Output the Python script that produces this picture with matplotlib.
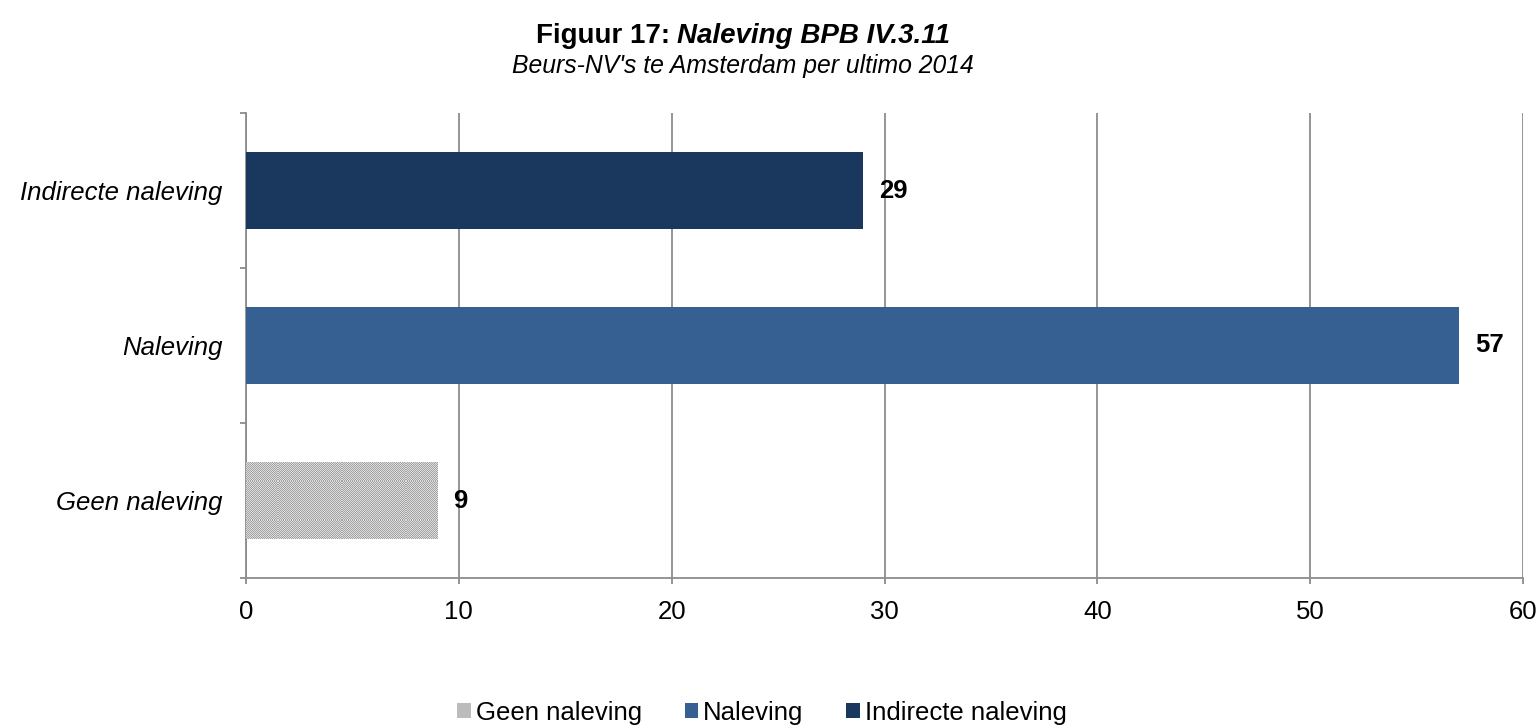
import matplotlib
matplotlib.use("Agg")
import numpy as np
import matplotlib.pyplot as plt
from matplotlib.patches import Patch

plt.rcParams['font.family'] = ['Liberation Sans', 'DejaVu Sans']

categories = ["Geen naleving", "Naleving", "Indirecte naleving"]
values = [9, 57, 29]
colors = ["#bcbcbc", "#376092", "#1a375e"]
xticks = [0, 10, 20, 30, 40, 50, 60]

W, H = 1539, 725
fig = plt.figure(figsize=(W / 100, H / 100), dpi=100)
ax = fig.add_axes([246 / W, 1 - 578 / H, (1523 - 246) / W, (578 - 113) / H])

ax.set_xlim(0, 60)
ax.set_ylim(-0.5, 2.5)

ypos = list(range(len(categories)))
LABEL_FS = 18.5
for y, v, c, name in zip(ypos, values, colors, categories):
    b = ax.barh(y, v, height=0.5, color=c, linewidth=0, zorder=3)
    if name == "Geen naleving":
        # fine dotted texture for the "no compliance" bar
        patch = b.patches[0]
        nx, ny = 1300, 480
        yy, xx = np.mgrid[0:ny, 0:nx]
        checker = ((xx + yy) % 2).astype(float)
        tex = np.where(checker[..., None] > 0,
                       np.array([0.87, 0.87, 0.87]),
                       np.array([0.64, 0.64, 0.64]))
        im = ax.imshow(tex, extent=(0, 60, -0.5, 2.5), aspect="auto",
                       interpolation="nearest", zorder=3.5, origin="lower")
        im.set_clip_path(patch)
    ax.annotate(str(v), xy=(v, y), xytext=(16, 0), textcoords="offset pixels",
                ha="left", va="center", fontsize=LABEL_FS, fontweight="bold", zorder=5)

ax.set_xlim(0, 60)
ax.set_ylim(-0.5, 2.5)
ax.set_xticks(xticks)
ax.set_xticklabels([str(t) for t in xticks], fontsize=LABEL_FS)
ax.set_yticks(ypos)
ax.set_yticklabels(categories, fontsize=LABEL_FS, fontstyle="italic")
ax.set_yticks([-0.5, 0.5, 1.5, 2.5], minor=True)
ax.tick_params(axis="y", which="major", length=0, pad=17)
ax.tick_params(axis="y", which="minor", length=4.5, color="#8c8c8c", width=1.3)
ax.tick_params(axis="x", which="major", length=4.5, color="#8c8c8c", width=1.3, pad=11)

ax.grid(axis="x", color="#8c8c8c", linewidth=1.3, zorder=0)
ax.set_axisbelow(True)
for s in ["top", "right"]:
    ax.spines[s].set_visible(False)
for s in ["left", "bottom"]:
    ax.spines[s].set_color("#8c8c8c")
    ax.spines[s].set_linewidth(1.3)

# Title: bold prefix followed by bold italic part, centred as one line
fig.canvas.draw()
renderer = fig.canvas.get_renderer()
TITLE_FS = 20
t1 = fig.text(0, 0, "Figuur 17: ", fontsize=TITLE_FS, fontweight="bold", va="center")
t2 = fig.text(0, 0, "Naleving BPB IV.3.11", fontsize=TITLE_FS, fontweight="bold",
              fontstyle="italic", va="center")
w1 = t1.get_window_extent(renderer).width
w2 = t2.get_window_extent(renderer).width
cx = 743
x0 = cx - (w1 + w2) / 2
ty = 1 - 36 / H
t1.set_position((x0 / W, ty))
t2.set_position(((x0 + w1) / W, ty))

fig.text(cx / W, 1 - 66 / H, "Beurs-NV's te Amsterdam per ultimo 2014",
         ha="center", va="center", fontsize=17.8, fontstyle="italic")

handles = [
    Patch(facecolor=colors[0], label=categories[0]),
    Patch(facecolor=colors[1], label=categories[1]),
    Patch(facecolor=colors[2], label=categories[2]),
]
fig.legend(handles=handles, loc="center", bbox_to_anchor=(762 / W, 1 - 713 / H),
           ncol=3, frameon=False, fontsize=LABEL_FS, handlelength=0.52, handleheight=0.52,
           handletextpad=0.2, columnspacing=1.66, borderpad=0, borderaxespad=0)

fig.savefig("out.png", dpi=100)
